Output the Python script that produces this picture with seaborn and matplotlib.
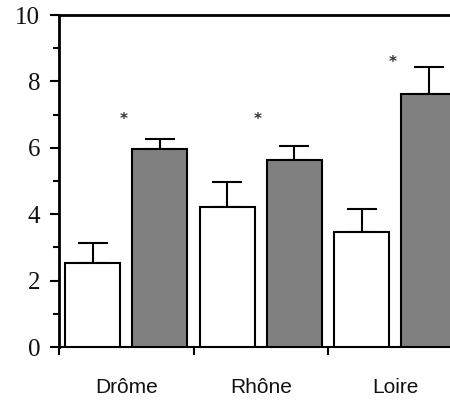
import numpy as np
import pandas as pd
import seaborn as sns
import matplotlib.pyplot as plt
from matplotlib.ticker import MultipleLocator

# values
regions = ['Drôme', 'Rhône', 'Loire']
groups = ['A', 'B']
means_a = [2.52, 4.22, 3.47]
means_b = [5.97, 5.62, 7.61]
err_a = [0.60, 0.75, 0.68]
err_b = [0.29, 0.43, 0.83]
star_y = [6.86, 6.86, 8.56]

data = pd.DataFrame({
    'Region': regions * 2,
    'Group': [groups[0]] * 3 + [groups[1]] * 3,
    'Value': means_a + means_b,
    'Err': err_a + err_b,
})

fig = plt.figure(figsize=(4.5, 4.01), dpi=100)
ax = fig.add_axes([59 / 450, 54 / 401, 403.5 / 450, 332 / 401])

sns.barplot(data=data, x='Region', y='Value', hue='Group', order=regions,
            hue_order=groups, palette=['white', '#808080'], width=1.0, gap=0.18,
            edgecolor='black', linewidth=1.5, errorbar=None, legend=False,
            saturation=1, ax=ax, zorder=3)

# upper error bars only, positions taken from the drawn bars
bars = sorted(ax.patches, key=lambda p: p.get_x())
errs = [e for pair in zip(err_a, err_b) for e in pair]
for p, e in zip(bars, errs):
    xc = p.get_x() + p.get_width() / 2
    ax.errorbar(xc, p.get_height(), yerr=[[0], [e]], color='black',
                elinewidth=1.5, capsize=11, capthick=1.5, zorder=2)

# significance stars
for i, y in enumerate(star_y):
    ax.text(i - 0.02, y, '*', ha='center', va='center', fontsize=11,
            color='#333333', fontweight='bold')

ax.set_xlim(-0.5, 2.5)
ax.set_ylim(0, 10)
ax.set_xlabel('')
ax.set_ylabel('')

ax.yaxis.set_major_locator(MultipleLocator(2))
ax.yaxis.set_minor_locator(MultipleLocator(1))
ax.tick_params(axis='y', which='major', length=6.5, width=1.5, pad=7,
               labelsize=18, labelfontfamily='Liberation Serif', labelcolor='#111111')
ax.tick_params(axis='y', which='minor', length=4.5, width=1.5)

ax.set_xticks([0, 1, 2], regions)
ax.set_xticks([-0.5, 0.5, 1.5], minor=True)
ax.tick_params(axis='x', which='major', length=0, pad=22, labelsize=15,
               labelfontfamily='Liberation Sans', labelcolor='#111111')
ax.tick_params(axis='x', which='minor', length=6, width=1.5)

for s in ['left', 'top', 'bottom']:
    ax.spines[s].set_linewidth(2)
ax.spines['bottom'].set_linewidth(1.5)
ax.spines['right'].set_visible(False)

fig.savefig('out.png', dpi=100)
